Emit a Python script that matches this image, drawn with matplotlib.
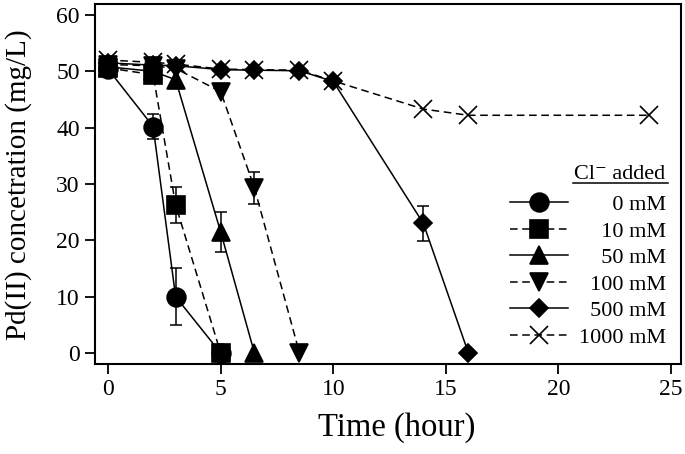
import numpy as np
import matplotlib
matplotlib.use("Agg")
import matplotlib.pyplot as plt

plt.rcParams['font.family'] = ['Liberation Serif', 'DejaVu Serif']

# data (time in hour, Pd(II) in mg/L)
t_0 = [0, 2, 3, 5]
y_0 = [50.4, 40.2, 10.0, 0]
e_0 = [np.nan, 2.2, 5.1, np.nan]

t_10 = [0, 2, 3, 5]
y_10 = [50.6, 49.4, 26.3, 0]
e_10 = [np.nan, np.nan, 3.2, np.nan]

t_50 = [0, 2, 3, 5, 6.5]
y_50 = [50.8, 50.0, 48.5, 21.5, 0]
e_50 = [np.nan, np.nan, np.nan, 3.6, np.nan]

t_100 = [0, 2, 3, 5, 6.5, 8.5]
y_100 = [51.2, 51.0, 50.5, 46.4, 29.3, 0]
e_100 = [np.nan, np.nan, np.nan, np.nan, 2.8, np.nan]

t_500 = [0, 2, 3, 5, 6.5, 8.5, 10, 14, 16]
y_500 = [51.5, 51.1, 51.0, 50.3, 50.2, 50.1, 48.2, 23.0, 0]
e_500 = [np.nan] * 7 + [3.1, np.nan]

t_1000 = [0, 2, 3, 5, 6.5, 8.5, 10, 14, 16, 24]
y_1000 = [52.0, 51.6, 51.3, 50.4, 50.3, 50.2, 48.3, 43.3, 42.2, 42.2]

conc = [0, 10, 50, 100, 500, 1000]
markers = ['o', 's', '^', 'v', 'D', 'x']
sizes = [13.5, 13, 13.5, 13.5, 9.5, 13.5]
styles = ['-', (0, (5, 3)), '-', (0, (5, 3)), '-', (0, (5, 3))]

series = [(t_0, y_0, e_0), (t_10, y_10, e_10), (t_50, y_50, e_50),
          (t_100, y_100, e_100), (t_500, y_500, e_500),
          (t_1000, y_1000, [np.nan] * len(t_1000))]

fig = plt.figure(figsize=(6.85, 4.54), dpi=100)
ax = fig.add_axes([95/685, 1 - 364/454, 586/685, 360.5/454])

handles = []
for (t, y, e), c, m, ms, ls in zip(series, conc, markers, sizes, styles):
    ax.errorbar(t, y, yerr=e, fmt='none', ecolor='black', elinewidth=1.1,
                capsize=4, capthick=1.1)
    lab = f"{c:>4}".replace(' ', '\u2007') + " mM"
    h, = ax.plot(t, y, color='black', linestyle=ls, linewidth=1.1,
                 marker=m, markersize=ms, markeredgewidth=1.2,
                 markerfacecolor='black', label=lab, clip_on=False)
    handles.append(h)

ax.set_xlim(-0.58, 25.44)
ax.set_ylim(-1.95, 62.04)
ax.set_xticks([0, 5, 10, 15, 20, 25])
ax.set_yticks([0, 10, 20, 30, 40, 50, 60])
ax.tick_params(direction='out', length=7, width=1.3, labelsize=17, pad=4)
for s in ax.spines.values():
    s.set_linewidth(1.5)

ax.set_xlabel("Time (hour)", fontsize=23.5)
ax.xaxis.set_label_coords(0.515, -0.135)
ax.set_ylabel("Pd(II) concetration (mg/L)", fontsize=21)
ax.yaxis.set_label_coords(-0.108, 0.497)

leg = ax.legend(handles=handles, loc='lower right', bbox_to_anchor=(0.975, 0.045),
                frameon=False, fontsize=16, handlelength=2.6, handletextpad=0.5,
                labelspacing=0.27, borderpad=0, borderaxespad=0)

ax.text(0.973, 0.512, "Cl\u207b added", transform=ax.transAxes, ha='right',
        va='baseline', fontsize=16)
ax.plot([0.816, 0.978], [0.503, 0.503], transform=ax.transAxes, color='black',
        linewidth=1.1, clip_on=False)

plt.savefig('out.png', dpi=100)
